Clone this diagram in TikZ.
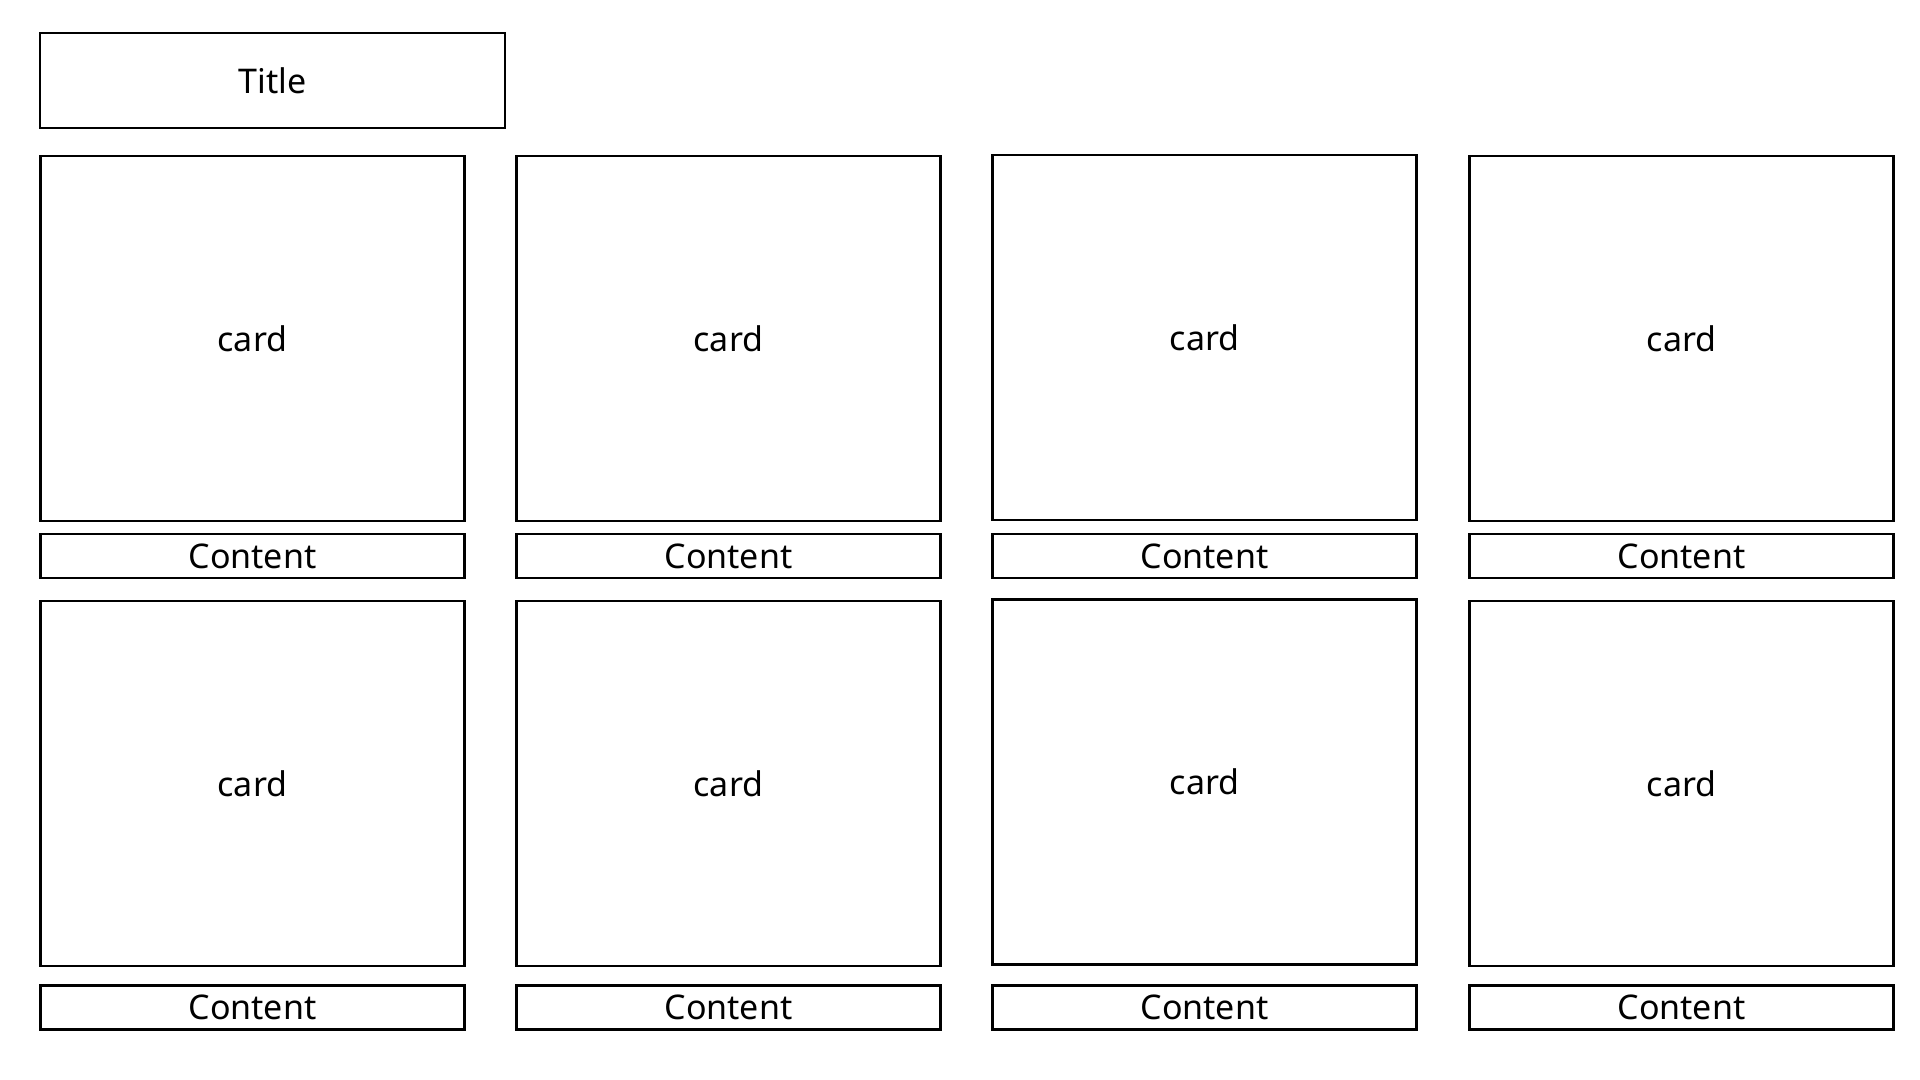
\documentclass[tikz,border=0pt]{standalone}
\usepackage{fontspec}
\setmainfont{Noto Sans}
\usepackage{tikz}

\tikzset{
  boxbase/.style={draw=black,line width=1.2pt,rectangle,inner sep=0pt,font=\fontsize{17}{20}\selectfont},
  titlebox/.style={boxbase,minimum width=232.5pt,minimum height=47.5pt},
  cardbox/.style={boxbase,minimum width=212pt,minimum height=182.5pt},
  contentbox/.style={boxbase,minimum width=212pt,minimum height=22pt},
}

\begin{document}
\begin{tikzpicture}[x=0.5pt,y=-0.5pt]
        \useasboundingbox (0,0) rectangle (1920,1080);
        \node[titlebox] (title) at (272.5,80.5) {Title};
        % first row
        \node[cardbox] (cardA) at (252.5,338.7) {card};
        \node[cardbox] (cardB) at (728.5,338.7) {card};
        \node[cardbox] (cardC) at (1204.5,337.3) {card};
        \node[cardbox] (cardD) at (1681.5,338.7) {card};
        \node[contentbox] (contA) at (252.5,556) {Content};
        \node[contentbox] (contB) at (728.5,556) {Content};
        \node[contentbox] (contC) at (1204.5,556) {Content};
        \node[contentbox] (contD) at (1681.5,556) {Content};
        % second row
        \node[cardbox] (cardE) at (252.5,783.5) {card};
        \node[cardbox] (cardF) at (728.5,783.5) {card};
        \node[cardbox] (cardG) at (1204.5,781.8) {card};
        \node[cardbox] (cardH) at (1681.5,783.5) {card};
        \node[contentbox] (contE) at (252.5,1007.5) {Content};
        \node[contentbox] (contF) at (728.5,1007.5) {Content};
        \node[contentbox] (contG) at (1204.5,1007.5) {Content};
        \node[contentbox] (contH) at (1681.5,1007.5) {Content};
    \end{tikzpicture}
\end{document}
